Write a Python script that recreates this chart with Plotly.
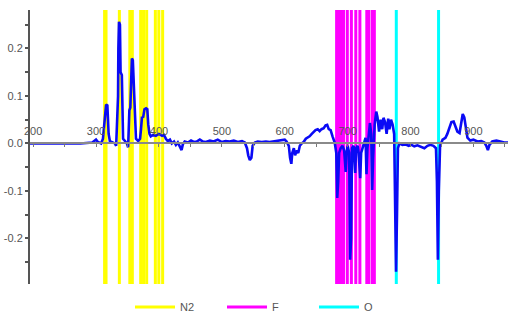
import plotly.graph_objects as go

# Spectrum (wavelength nm, difference signal)
wl = [195, 243, 275, 294, 300, 303, 308, 311, 313, 314, 316, 318, 320, 322, 327, 330, 332, 333,
      335, 335.5, 336.5, 338, 339, 341, 342, 343, 346, 349, 351, 352, 353, 354.5, 355.5, 357,
      358.5, 360, 361, 362, 363.5, 367, 370, 371.5, 373, 375, 377, 379.5, 381.5, 383, 385, 387,
      390.5, 395, 400, 405, 408, 411, 414, 417.5, 420.5, 424, 427, 430, 433, 436, 438, 441, 446,
      451, 455.5, 460, 465, 470, 474.5, 481, 487, 493.5, 500, 506, 512.5, 519, 525.5, 532,
      536.5, 540, 542, 544.5, 547, 549, 552.5, 557, 563.5, 570, 576, 582.5, 589, 595, 600, 603,
      606.5, 608.5, 610.5, 612, 614.5, 616.5, 619, 621.5, 624, 627, 630, 633.5, 636.5, 639.5,
      643, 646, 649, 652.5, 655.5, 658.5, 662, 665, 667.5, 670, 673, 676, 679.5, 682, 683.5,
      685, 686.5, 689, 692, 694.5, 697, 698.5, 700, 702.5, 704, 705.5, 707, 709.5, 712, 713.5,
      716, 717.5, 720, 721.5, 724, 726, 728.5, 730, 731.5, 734, 735.5, 737.5, 739, 740.5, 743,
      745.5, 747.5, 750, 752.5, 755, 757, 759.5, 762, 764.5, 766.5, 769, 771.5, 774, 775.5, 777,
      778.5, 780, 782.5, 787, 792, 797, 801.5, 806, 811, 816, 822, 827, 831.5, 836.5, 840.5,
      842, 843.5, 845, 847, 851, 855.5, 858.5, 862, 865, 868.5, 871.5, 874.5, 878, 880, 883,
      885.5, 888, 890.5, 895, 900, 906.5, 912.5, 917.5, 920.5, 923, 925.5, 930, 936.5, 943,
      949, 955.5]
signal = [0.0, 0.0, 0.0, 0.002, 0.008, 0.003, 0.0, 0.01, 0.04, 0.06, 0.082, 0.08, 0.02, 0.005,
          0.002, 0.0, -0.005, 0.02, 0.1, 0.2, 0.256, 0.25, 0.15, 0.144, 0.05, 0.01, 0.005, 0.0,
          -0.008, 0.02, 0.07, 0.075, 0.15, 0.179, 0.175, 0.12, 0.115, 0.04, 0.01, 0.005, 0.01,
          0.03, 0.055, 0.056, 0.072, 0.074, 0.072, 0.04, 0.02, 0.015, 0.018, 0.016, 0.02, 0.016,
          0.018, 0.01, 0.005, 0.008, 0.0, 0.004, -0.003, 0.002, -0.005, -0.014, -0.002, 0.004,
          0.002, 0.006, 0.003, 0.004, 0.008, 0.004, 0.003, 0.006, 0.004, 0.008, 0.003, 0.005,
          0.004, 0.006, 0.003, 0.005, 0.002, -0.01, -0.025, -0.035, -0.03, -0.005, 0.002, 0.004,
          0.003, 0.004, 0.003, 0.004, 0.005, 0.006, 0.008, 0.004, -0.005, -0.03, -0.043, -0.02,
          -0.01, -0.025, -0.015, -0.02, -0.005, 0.0, 0.003, 0.01, 0.012, 0.015, 0.02, 0.025,
          0.028, 0.03, 0.026, 0.03, 0.032, 0.038, 0.039, 0.03, 0.028, 0.015, 0.002, -0.02,
          -0.115, -0.08, -0.02, -0.01, -0.005, -0.015, -0.06, -0.02, -0.005, -0.02, -0.245,
          -0.2, -0.01, -0.005, -0.062, -0.01, -0.005, -0.02, -0.073, -0.02, -0.005, 0.0, 0.012,
          -0.065, -0.01, 0.025, 0.043, 0.02, -0.098, -0.03, 0.04, 0.067, 0.055, 0.025, 0.05,
          0.03, 0.054, 0.045, 0.02, 0.052, 0.03, 0.05, 0.04, 0.02, -0.1, -0.27, -0.15, -0.01,
          0.0, -0.003, -0.002, -0.005, -0.003, -0.006, -0.004, -0.007, -0.01, -0.005, -0.003,
          -0.005, -0.01, -0.08, -0.245, -0.1, -0.005, 0.008, 0.012, 0.02, 0.035, 0.045, 0.046,
          0.035, 0.025, 0.022, 0.04, 0.062, 0.055, 0.03, 0.012, 0.006, 0.008, 0.004, 0.005,
          0.002, -0.005, -0.014, -0.003, 0.004, 0.006, 0.004, 0.002, 0.002]

# Emission line positions (nm)
n2_lines = [313.6, 315.9, 337.1, 353.7, 357.7, 371.0, 375.5, 380.5, 394.3, 399.8, 405.9]
f_lines = [682.5, 685.6, 687.5, 690.5, 693.5, 699.5, 706.0, 713.0, 719.5, 730.5, 733.5, 739.0, 742.5]
o_lines = [777.4, 844.6]

x_ticks = [200, 300, 400, 500, 600, 700, 800, 900]
y_ticks = [-0.2, -0.1, 0.0, 0.1, 0.2]
y_tick_text = ["-0.2", "-0.1", "0.0", "0.1", "0.2"]

X_RANGE = [195, 955]
Y_RANGE = [-0.296, 0.281]


def vlines(vals):
    xs, ys = [], []
    for v in vals:
        xs += [v, v, None]
        ys += [Y_RANGE[0], Y_RANGE[1], None]
    return xs, ys


fig = go.Figure()
for name, vals, color in [("N2", n2_lines, "#FFFF00"), ("F", f_lines, "#FF00FF"), ("O", o_lines, "#00FFFF")]:
    xs, ys = vlines(vals)
    fig.add_trace(go.Scatter(x=xs, y=ys, mode="lines", name=name,
                             line=dict(color=color, width=3), hoverinfo="skip"))

fig.add_trace(go.Scatter(x=wl, y=signal, mode="lines", showlegend=False,
                         line=dict(color="#0A0AF5", width=2.6)))

zero_pos = (0 - Y_RANGE[0]) / (Y_RANGE[1] - Y_RANGE[0])

fig.update_layout(
    width=508, height=332,
    margin=dict(l=30, r=0, t=10, b=48),
    plot_bgcolor="white", paper_bgcolor="white",
    font=dict(family="Liberation Sans, Arial, sans-serif", size=11, color="#555555"),
    xaxis=dict(range=X_RANGE, side="top", anchor="free", position=zero_pos, automargin=False,
               tickmode="array", tickvals=x_ticks, ticks="inside", ticklen=3,
               tickcolor="#777777", showline=True, linecolor="#8a8a8a", linewidth=1.5,
               showgrid=False, zeroline=False, ticklabelstandoff=3,
               minor=dict(dtick=50, tick0=0, ticks="inside", ticklen=3, tickcolor="#777777"),
               tickfont=dict(size=11, color="#555555")),
    yaxis=dict(range=Y_RANGE, tickmode="array", tickvals=y_ticks, ticktext=y_tick_text,
               automargin=False,
               ticks="outside", ticklen=3, tickcolor="#555555", tickwidth=1.5,
               showline=True, linecolor="#555555", linewidth=2,
               showgrid=False, zeroline=False,
               minor=dict(dtick=0.05, tick0=0, ticks="outside", ticklen=3, tickcolor="#555555"),
               tickfont=dict(size=11, color="#555555")),
    legend=dict(orientation="h", xref="container", yref="container", x=130 / 508, y=0.075,
                xanchor="left", yanchor="middle", font=dict(size=11, color="#555555"),
                itemwidth=40, entrywidth=37, entrywidthmode="pixels",
                bgcolor="rgba(0,0,0,0)"),
    showlegend=True,
)

fig.write_html("out.html", config={"displayModeBar": False},
               post_script="document.body.style.margin='0';document.body.style.padding='0';")
